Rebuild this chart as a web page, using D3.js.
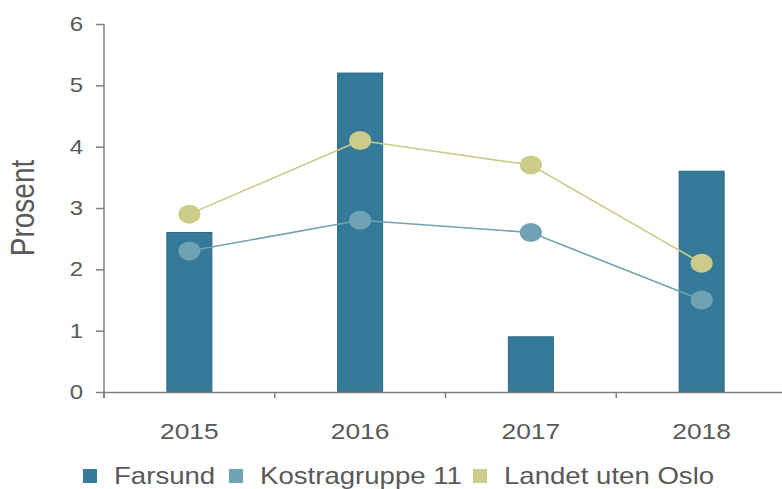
<!DOCTYPE html>
<html>
<head>
<meta charset="utf-8">
<script src="https://cdn.jsdelivr.net/npm/d3@7"></script>
<style>
  body { margin: 0; background: #fff; }
  text { font-family: "Liberation Sans", Arial, sans-serif; fill: #595959; }
</style>
</head>
<body>
<div id="chart"></div>
<script>
// data
let years = ["2015", "2016", "2017", "2018"];
let farsund = [2.6, 5.2, 0.9, 3.6];
let kostra = [2.3, 2.8, 2.6, 1.5];
let landet = [2.9, 4.1, 3.7, 2.1];
let yTicks = [0, 1, 2, 3, 4, 5, 6];
let seriesNames = ["Farsund", "Kostragruppe 11", "Landet uten Oslo"];
let seriesColors = ["#367a99", "#6fa3b4", "#cccb8a"];

// the reference text is a bit stretched sideways
let stretch = 1.2;

let W = 782, H = 489;
let margin = { top: 24, right: -5, bottom: 97, left: 104 };
let width = W - margin.left - margin.right,
  height = H - margin.top - margin.bottom;

let svg = d3.select("#chart").append("svg")
  .attr("width", W).attr("height", H)
  .append("g")
  .attr("transform", "translate(" + margin.left + "," + margin.top + ")");

let x = d3.scaleBand().domain(years).range([0, width]);
let y = d3.scaleLinear().domain([0, 6]).range([height, 0]);

// bars
let barW = 45;
svg.selectAll("rect.bar")
  .data(years)
  .enter().append("rect")
  .attr("class", "bar")
  .attr("x", (d) => x(d) + x.bandwidth() / 2 - barW / 2)
  .attr("width", barW)
  .attr("y", (d, i) => y(farsund[i]))
  .attr("height", (d, i) => height - y(farsund[i]))
  .attr("fill", seriesColors[0])
  .attr("stroke", "#2b6884")
  .attr("stroke-width", 1);

// y axis
let yAxis = svg.append("g")
  .call(d3.axisLeft(y).tickValues(yTicks).tickFormat(d3.format("d"))
    .tickSize(8).tickPadding(9.5));
yAxis.select(".domain").attr("stroke", "#7f7f7f").attr("stroke-width", 1.5)
  .attr("d", "M0,0V" + (height + 6));
yAxis.selectAll(".tick line").attr("stroke", "#7f7f7f").attr("stroke-width", 1.5);
yAxis.selectAll(".tick text")
  .style("font-size", "20px")
  .attr("fill", "#595959")
  .attr("transform", "scale(" + stretch + ",1)");

// x axis
let xAxis = svg.append("g")
  .attr("transform", "translate(0," + height + ")")
  .call(d3.axisBottom(x).tickSize(0).tickPadding(31));
xAxis.select(".domain").attr("stroke", "#7f7f7f").attr("stroke-width", 1.5);
xAxis.selectAll(".tick text")
  .style("font-size", "22px")
  .attr("fill", "#595959")
  .attr("transform", "scale(" + stretch + ",1)");
// category separators
xAxis.selectAll(".sep")
  .data(years)
  .enter().append("line")
  .attr("class", "sep")
  .attr("x1", (d) => x(d)).attr("x2", (d) => x(d))
  .attr("y1", 0).attr("y2", 6)
  .attr("stroke", "#7f7f7f").attr("stroke-width", 1.5);

// y axis title
svg.append("text")
  .attr("transform", "translate(-70," + y(3) + ") scale(" + stretch + ",1) rotate(-90)")
  .style("text-anchor", "middle")
  .style("font-size", "28px")
  .text("Prosent");

// lines with markers
let line = d3.line()
  .x((d, i) => x(years[i]) + x.bandwidth() / 2)
  .y((d) => y(d));

[[kostra, 1], [landet, 2]].forEach(function (s) {
  let vals = s[0], c = seriesColors[s[1]];
  svg.append("path")
    .datum(vals)
    .attr("d", line)
    .attr("fill", "none")
    .attr("stroke", c)
    .attr("stroke-width", 1.6);
  svg.selectAll(null)
    .data(vals)
    .enter().append("ellipse")
    .attr("cx", (d, i) => x(years[i]) + x.bandwidth() / 2)
    .attr("cy", (d) => y(d))
    .attr("rx", 11)
    .attr("ry", 9.5)
    .attr("fill", c);
});

// legend
let legendX = [83, 229, 473];
let legend = d3.select("svg").append("g");
seriesNames.forEach(function (name, i) {
  let item = legend.append("g")
    .attr("transform", "translate(" + legendX[i] + ",0)");
  item.append("rect")
    .attr("x", 0).attr("y", 469)
    .attr("width", 14).attr("height", 14)
    .attr("fill", seriesColors[i]);
  item.append("text")
    .attr("transform", "translate(31,484) scale(" + stretch + ",1)")
    .style("font-size", "23px")
    .text(name);
});
</script>
</body>
</html>
